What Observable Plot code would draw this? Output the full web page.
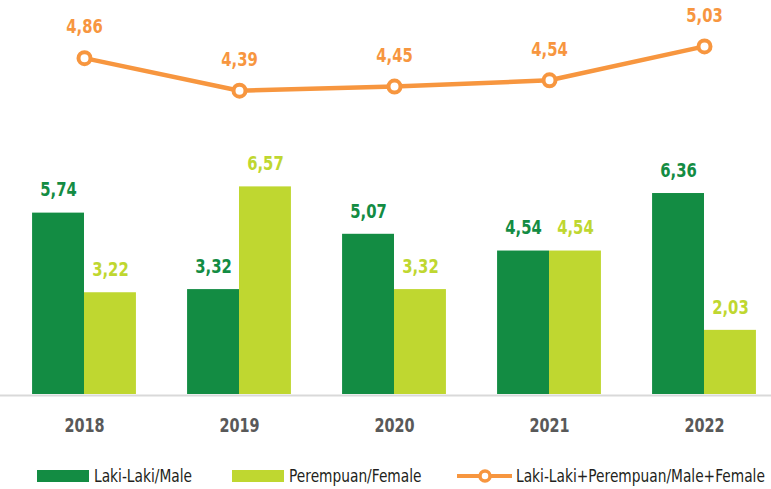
<!DOCTYPE html>
<html>
<head>
<meta charset="utf-8">
<script src="https://cdn.jsdelivr.net/npm/d3@7"></script>
<script src="https://cdn.jsdelivr.net/npm/@observablehq/plot@0.6"></script>
<style>
  body { margin: 0; background: #fff; font-family: "DejaVu Sans", sans-serif; }
  #legend { display: block; }
</style>
</head>
<body>
<div id="chart"></div>
<svg id="legend" width="771" height="41"></svg>
<script>
const years = ["2018", "2019", "2020", "2021", "2022"];
const male = [5.74, 3.32, 5.07, 4.54, 6.36];
const female = [3.22, 6.57, 3.32, 4.54, 2.03];
const total = [4.86, 4.39, 4.45, 4.54, 5.03];
const seriesNames = ["Laki-Laki/Male", "Perempuan/Female", "Laki-Laki+Perempuan/Male+Female"];
const colors = ["#138C43", "#BFD730", "#F7963F"];

// secondary (line) axis expressed in bar units
const lineScale = 2.19;
const barHalf = 0.335;
const condense = 0.76;

const rows = years.map((y, i) => ({i, year: y, male: male[i], female: female[i], total: total[i]}));
const fmt = v => d3.format(".2f")(v).replace(".", ",");
const font = '"DejaVu Sans", sans-serif';

const plot = Plot.plot({
  width: 771,
  height: 448,
  marginLeft: 0, marginRight: 0, marginTop: 0, marginBottom: 54,
  style: {fontFamily: font, background: "#fff"},
  x: {type: "linear", domain: [-0.5, 4.5], range: [6.5, 781.5], axis: null},
  y: {domain: [0, 12], range: [394, 14.8], axis: null},
  marks: [
    Plot.ruleY([0], {stroke: "#D9D9D9", strokeWidth: 2, dy: 1}),
    Plot.rectY(rows, {x1: d => d.i - barHalf, x2: d => d.i, y: "male", fill: colors[0]}),
    Plot.rectY(rows, {x1: d => d.i, x2: d => d.i + barHalf, y: "female", fill: colors[1]}),
    Plot.text(rows, {x: d => d.i - barHalf / 2, y: "male", text: d => fmt(d.male), dy: -23, fill: colors[0], fontSize: 19.5, fontWeight: "bold"}),
    Plot.text(rows, {x: d => d.i + barHalf / 2, y: "female", text: d => fmt(d.female), dy: -23, fill: colors[1], fontSize: 19.5, fontWeight: "bold"}),
    Plot.line(rows, {x: "i", y: d => d.total * lineScale, stroke: colors[2], strokeWidth: 4.5}),
    Plot.dot(rows, {x: "i", y: d => d.total * lineScale, r: 6, fill: "#fff", stroke: colors[2], strokeWidth: 4}),
    Plot.text(rows, {x: "i", y: d => d.total * lineScale, text: d => fmt(d.total), dy: -31, fill: colors[2], fontSize: 19.5, fontWeight: "bold"}),
    Plot.text(rows, {x: "i", y: 0, text: "year", dy: 31, fill: "#595959", fontSize: 19, fontWeight: "bold"})
  ]
});
document.getElementById("chart").appendChild(plot);
// condensed look: squeeze glyphs horizontally (no condensed face installed)
function squeeze(root, factor) {
  root.querySelectorAll("text").forEach(t => {
    const w = t.getComputedTextLength();
    t.setAttribute("textLength", (w * factor).toFixed(1));
    t.setAttribute("lengthAdjust", "spacingAndGlyphs");
  });
}
squeeze(plot, condense);

// legend below the chart
const lg = d3.select("#legend").style("font-family", font);
const cy = 28;
const items = [
  {sx: 37, tx: 94},
  {sx: 232, tx: 289},
  {sx: 457, tx: 516}
];
items.forEach((it, k) => {
  if (k < 2) {
    lg.append("rect").attr("x", it.sx).attr("y", cy - 6).attr("width", 52).attr("height", 12).attr("fill", colors[k]);
  } else {
    lg.append("line").attr("x1", it.sx).attr("x2", it.sx + 55).attr("y1", cy).attr("y2", cy)
      .attr("stroke", colors[2]).attr("stroke-width", 4);
    lg.append("circle").attr("cx", it.sx + 28).attr("cy", cy).attr("r", 5)
      .attr("fill", "#fff").attr("stroke", colors[2]).attr("stroke-width", 3.5);
  }
  lg.append("text").attr("x", it.tx).attr("y", cy).attr("dy", "0.36em")
    .attr("font-size", 18).attr("fill", "#231f20").text(seriesNames[k]);
});
const firstW = lg.select("text").node().getComputedTextLength();
squeeze(document.getElementById("legend"), 98 / firstW);
</script>
</body>
</html>
